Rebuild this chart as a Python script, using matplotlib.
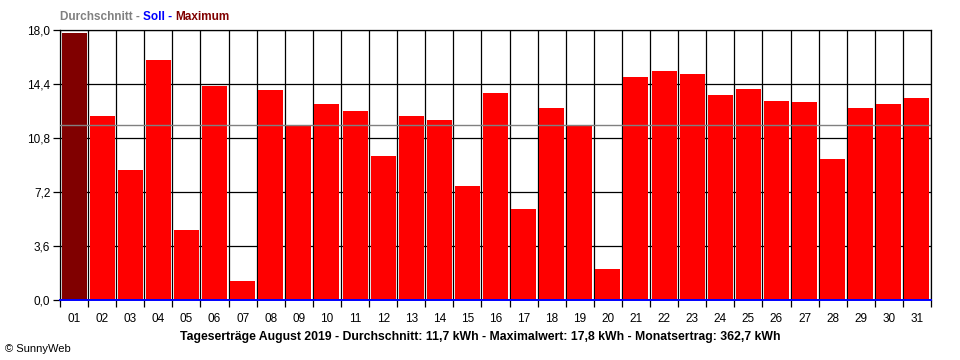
import numpy as np
import matplotlib
matplotlib.use("Agg")
import matplotlib.pyplot as plt
from matplotlib.ticker import FixedLocator, FuncFormatter

plt.rcParams["font.family"] = ["Liberation Sans", "DejaVu Sans"]

days = ["{:02d}".format(d) for d in range(1, 32)]
yields = [17.8, 12.3, 8.7, 16.0, 4.7, 14.3, 1.3, 14.0, 11.7, 13.1,
          12.6, 9.6, 12.3, 12.0, 7.6, 13.8, 6.1, 12.8, 11.6, 2.1,
          14.9, 15.3, 15.1, 13.7, 14.1, 13.3, 13.2, 9.4, 12.8, 13.1, 13.5]
average = 11.7
maximum = 17.8
total = 362.7
yticks = [0.0, 3.6, 7.2, 10.8, 14.4, 18.0]

fig = plt.figure(figsize=(9.6, 3.6), dpi=100)
ax = fig.add_axes([60/960, 60/360, 871/960, 270/360])

x = np.arange(len(days))
colors = ["#800000" if v == max(yields) else "#ff0000" for v in yields]
ax.bar(x, yields, width=0.89, color=colors, zorder=2)
ax.axhline(average, color="#808080", linewidth=1.0, zorder=3)

ax.set_xlim(-0.5, len(days) - 0.5)
ax.set_ylim(0, 18.0)
ax.set_xticks(x)
ax.set_xticklabels(days)
ax.xaxis.set_minor_locator(FixedLocator(np.arange(-0.5, len(days), 1.0)))
ax.tick_params(axis="x", which="major", length=0, pad=9, labelsize=8.5)
ax.tick_params(axis="x", which="minor", length=5, width=0.9, color="black")
ax.set_yticks(yticks)
ax.yaxis.set_major_formatter(FuncFormatter(lambda v, p: "{:.1f}".format(v).replace(".", ",")))
ax.tick_params(axis="y", length=5, width=0.9, labelsize=8.5, pad=2)
ax.grid(True, axis="y", color="black", linewidth=0.9, zorder=1)
ax.grid(True, axis="x", which="minor", color="black", linewidth=0.9, zorder=1)
ax.set_axisbelow(True)
for s in ["left", "right", "top"]:
    ax.spines[s].set_linewidth(0.9)
ax.spines["bottom"].set_color("#0000ff")
ax.spines["bottom"].set_linewidth(1.4)

# coloured legend line at the top left
fig.canvas.draw()
renderer = fig.canvas.get_renderer()
xpos = 60 / 960
for part, col in [("Durchschnitt - ", "#808080"), ("Soll - ", "#0000ff"), ("Maximum", "#800000")]:
    t = fig.text(xpos, 1 - 17/360, part, color=col, fontsize=8.5, fontweight="bold",
                 va="center", ha="left")
    bb = t.get_window_extent(renderer)
    xpos += bb.width / 960

caption = ("Tageserträge August 2019 - Durchschnitt: {:.1f} kWh - Maximalwert: {:.1f} kWh"
           " - Monatsertrag: {:.1f} kWh").format(average, maximum, total).replace(".", ",")
fig.text(480/960, 1 - 337/360, caption, fontsize=8.8, fontweight="bold", ha="center", va="center")
fig.text(5/960, 1 - 349/360, "© SunnyWeb", fontsize=8, ha="left", va="center")

plt.savefig("out.png", dpi=100)
